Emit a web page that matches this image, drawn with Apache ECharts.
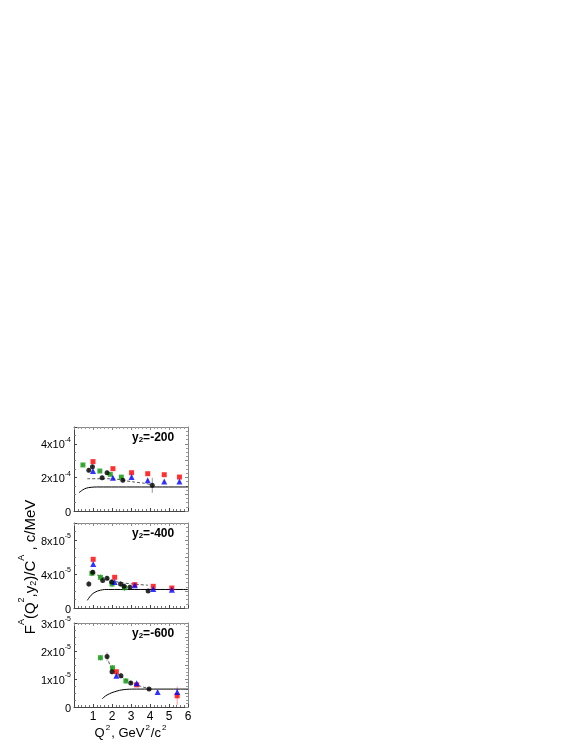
<!DOCTYPE html>
<html>
<head>
<meta charset="utf-8">
<script src="https://cdn.jsdelivr.net/npm/echarts@6/dist/echarts.min.js"></script>
<style>
  html, body { margin: 0; padding: 0; background: #fff; }
  #chart { width: 578px; height: 748px; }
</style>
</head>
<body>
<div id="chart"></div>
<script>
    // panel y scales: panel 1 in 1e-4, panels 2 and 3 in 1e-5
    var scales = [1e-4, 1e-5, 1e-5];
    var panelNames = ['-200', '-400', '-600'];
    var yMax = [5, 10, 3];
    var yStep = [2, 4, 1];
    var xTicks = [0, 1, 2, 3, 4, 5, 6];

    // y2 = -200  (units 1e-4)
    var p1BlackX = [0.78, 0.97, 1.48, 1.74, 2.57, 4.12];
    var p1BlackY = [2.42, 2.64, 1.98, 2.28, 1.83, 1.53];
    var p1BlackE = [0.12, 0.12, 0.15, 0.15, 0.12, 0.45];
    var p1GreenX = [0.47, 1.36, 1.91, 2.49];
    var p1GreenY = [2.74, 2.38, 2.18, 2.02];
    var p1GreenE = [0.12, 0.1, 0.1, 0.1];
    var p1RedX = [1.0, 2.05, 3.03, 3.88, 4.75, 5.55];
    var p1RedY = [2.94, 2.52, 2.28, 2.22, 2.16, 2.02];
    var p1BlueX = [1.0, 2.05, 3.03, 3.88, 4.75, 5.55];
    var p1BlueY = [2.38, 1.98, 2.02, 1.83, 1.75, 1.75];
    var p1DashX = [0.7, 1.5, 2.2, 2.6, 3.2, 3.7, 4.12];
    var p1DashY = [1.92, 1.92, 1.9, 1.82, 1.72, 1.65, 1.55];
    var p1SolidX = [0.26, 0.45, 0.65, 0.9, 1.2, 6];
    var p1SolidY = [1.09, 1.25, 1.36, 1.41, 1.43, 1.43];

    // y2 = -400  (units 1e-5)
    var p2BlackX = [0.78, 0.99, 1.51, 1.74, 1.98, 2.45, 2.63, 2.94, 3.9];
    var p2BlackY = [2.82, 4.2, 3.25, 3.49, 3.06, 2.82, 2.55, 2.43, 2.0];
    var p2BlackE = [0.35, 0.3, 0.3, 0.3, 0.3, 0.3, 0.35, 0.3, 0.2];
    var p2GreenX = [0.94, 1.39, 2.0, 2.66];
    var p2GreenY = [4.08, 3.61, 2.82, 2.39];
    var p2GreenE = [0.35, 0.35, 0.4, 0.4];
    var p2RedX = [1.01, 2.14, 3.2, 4.17, 5.15];
    var p2RedY = [5.73, 3.61, 2.75, 2.55, 2.35];
    var p2BlueX = [1.01, 2.14, 3.2, 4.17, 5.15];
    var p2BlueY = [5.18, 3.06, 2.67, 2.24, 2.16];
    var p2DashX = [0.99, 1.3, 1.7, 2.1, 2.6, 3.2, 3.9];
    var p2DashY = [4.2, 3.8, 3.45, 3.15, 2.95, 2.8, 2.68];
    var p2SolidX = [0.7, 0.9, 1.1, 1.4, 1.8, 6];
    var p2SolidY = [0.9, 1.5, 1.85, 2.1, 2.18, 2.18];

    // y2 = -600  (units 1e-5)
    var p3BlackX = [1.74, 2.0, 2.47, 2.99, 3.95];
    var p3BlackY = [1.80, 1.26, 1.12, 0.86, 0.64];
    var p3BlackE = [0.15, 0.1, 0.1, 0.08, 0.06];
    var p3GreenX = [1.39, 2.03, 2.73];
    var p3GreenY = [1.76, 1.40, 0.93];
    var p3GreenE = [0.1, 0.1, 0.1];
    var p3RedX = [2.23, 3.3, 5.43];
    var p3RedY = [1.26, 0.79, 0.40];
    var p3RedE = [0.05, 0.05, 0.33];
    var p3BlueX = [2.23, 3.3, 4.4, 5.43];
    var p3BlueY = [1.12, 0.85, 0.54, 0.54];
    var p3BlueE = [0.04, 0.04, 0.04, 0.1];
    var p3DashX = [1.74, 2.0, 2.5, 3.0, 3.5, 3.95];
    var p3DashY = [1.80, 1.35, 1.08, 0.88, 0.74, 0.66];
    var p3SolidX = [1.48, 1.74, 2.26, 2.78, 3.3, 6];
    var p3SolidY = [0.29, 0.43, 0.57, 0.63, 0.64, 0.64];

    var panels = [
        {black: [p1BlackX, p1BlackY, p1BlackE], green: [p1GreenX, p1GreenY, p1GreenE],
         red: [p1RedX, p1RedY, null], blue: [p1BlueX, p1BlueY, null],
         dash: [p1DashX, p1DashY], solid: [p1SolidX, p1SolidY]},
        {black: [p2BlackX, p2BlackY, p2BlackE], green: [p2GreenX, p2GreenY, p2GreenE],
         red: [p2RedX, p2RedY, null], blue: [p2BlueX, p2BlueY, null],
         dash: [p2DashX, p2DashY], solid: [p2SolidX, p2SolidY]},
        {black: [p3BlackX, p3BlackY, p3BlackE], green: [p3GreenX, p3GreenY, p3GreenE],
         red: [p3RedX, p3RedY, p3RedE], blue: [p3BlueX, p3BlueY, p3BlueE],
         dash: [p3DashX, p3DashY], solid: [p3SolidX, p3SolidY]}
    ];

    var gridTops = [427, 523, 623];
    var gridHeights = [84, 85, 84];
    var font = 'Liberation Sans, Arial, sans-serif';

    function pairs(xs, ys, k) {
        return xs.map(function (x, i) { return [x, ys[i] * k]; });
    }

    function errSeries(xi, yi, xs, ys, es, k, color, xe) {
        var data = xs.map(function (x, i) {
            return [x, ys[i] * k, (es ? es[i] : 0.05) * k, xe || 0];
        });
        return {
            type: 'custom', xAxisIndex: xi, yAxisIndex: yi, silent: true, z: 1,
            renderItem: function (params, api) {
                var x = api.value(0), y = api.value(1), e = api.value(2), h = api.value(3);
                var a = api.coord([x, y - e]), b = api.coord([x, y + e]);
                var kids = [{type: 'line', shape: {x1: a[0], y1: a[1], x2: b[0], y2: b[1]},
                    style: {stroke: color, lineWidth: 1}}];
                if (h) {
                    var c = api.coord([x - h, y]), d = api.coord([x + h, y]);
                    kids.push({type: 'line', shape: {x1: c[0], y1: c[1], x2: d[0], y2: d[1]},
                        style: {stroke: color, lineWidth: 1}});
                }
                return {type: 'group', children: kids};
            },
            data: data
        };
    }

    var grids = [], xAxes = [], yAxes = [], series = [];
    panels.forEach(function (p, gi) {
        var k = scales[gi];
        var expo = gi === 0 ? '-4' : '-5';
        grids.push({left: 74, width: 114, top: gridTops[gi], height: gridHeights[gi]});
        xAxes.push({
            type: 'value', gridIndex: gi, min: 0, max: 6, interval: 1,
            axisLine: {show: true, onZero: false, lineStyle: {color: '#444', width: 1}},
            axisTick: {show: true, inside: true, length: 3, lineStyle: {color: '#444'}},
            minorTick: {show: true, splitNumber: 5, length: 2, lineStyle: {color: '#777'}},
            axisLabel: {show: gi === 2, margin: 4, color: '#000', fontSize: 12, fontFamily: font,
                formatter: function (v) { return v === 0 ? '' : String(v); }},
            splitLine: {show: false},
            name: gi === 2 ? '{t|Q}{s|2}{t|, GeV}{s|2}{t|/c}{s|2}' : '',
            nameLocation: 'middle', nameGap: 15,
            nameTextStyle: {rich: {
                t: {fontSize: 13, fontFamily: font, color: '#000', lineHeight: 16, verticalAlign: 'bottom'},
                s: {fontSize: 8, fontFamily: font, color: '#000', lineHeight: 8, verticalAlign: 'top', padding: [0, 1, 0, 1]}
            }}
        });
        xAxes.push({
            type: 'value', gridIndex: gi, min: 0, max: 6, interval: 1, position: 'top',
            axisLine: {show: true, onZero: false, lineStyle: {color: '#888', width: 1}},
            axisTick: {show: true, inside: true, length: 3, lineStyle: {color: '#888'}},
            minorTick: {show: true, splitNumber: 5, length: 2, lineStyle: {color: '#999'}},
            axisLabel: {show: false}, splitLine: {show: false}
        });
        yAxes.push({
            type: 'value', gridIndex: gi, min: 0, max: yMax[gi] * k, interval: yStep[gi] * k,
            axisLine: {show: true, onZero: false, lineStyle: {color: '#444', width: 1}},
            axisTick: {show: true, inside: true, length: 3, lineStyle: {color: '#444'}},
            minorTick: {show: true, splitNumber: 4, length: 2, lineStyle: {color: '#777'}},
            splitLine: {show: false},
            axisLabel: {margin: 3, color: '#000', showMaxLabel: yMax[gi] % yStep[gi] === 0,
                formatter: function (v) {
                    if (v === 0) return '{n|0}';
                    return '{n|' + Math.round(v / k) + 'x10}{s|' + expo + '}';
                },
                rich: {
                    n: {fontSize: 11, fontFamily: font, color: '#000', lineHeight: 14, verticalAlign: 'bottom'},
                    s: {fontSize: 7, fontFamily: font, color: '#000', lineHeight: 7, verticalAlign: 'top'}
                }}
        });
        yAxes.push({
            type: 'value', gridIndex: gi, min: 0, max: yMax[gi] * k, interval: yStep[gi] * k / 2,
            position: 'right',
            axisLine: {show: true, onZero: false, lineStyle: {color: '#888', width: 1}},
            axisTick: {show: true, inside: true, length: 3, lineStyle: {color: '#888'}},
            minorTick: {show: true, splitNumber: 4, length: 2, lineStyle: {color: '#999'}},
            axisLabel: {show: false}, splitLine: {show: false}
        });
    });

    panels.forEach(function (p, gi) {
        var k = scales[gi];
        var xi = gi * 2, yi = gi * 2;
        function err(arr, color, xe) {
            return errSeries(xi, yi, arr[0], arr[1], arr[2], k, color, xe);
        }
        series.push({type: 'line', xAxisIndex: xi, yAxisIndex: yi, data: pairs(p.solid[0], p.solid[1], k),
            smooth: 0.4, symbol: 'none', lineStyle: {color: '#000', width: 1}, silent: true});
        series.push({type: 'line', xAxisIndex: xi, yAxisIndex: yi, data: pairs(p.dash[0], p.dash[1], k),
            smooth: 0.3, symbol: 'none', lineStyle: {color: '#555', width: 1, type: [3, 2]}, silent: true});
        series.push(err(p.black, '#999'));
        series.push(err(p.green, '#8fce8f', 0.1));
        series.push(err(p.red, '#f4a0a0'));
        series.push(err(p.blue, '#a0a0f4'));
        series.push({type: 'scatter', xAxisIndex: xi, yAxisIndex: yi, data: pairs(p.green[0], p.green[1], k),
            symbol: 'rect', symbolSize: 5, itemStyle: {color: '#119911'}, z: 3});
        series.push({type: 'scatter', xAxisIndex: xi, yAxisIndex: yi, data: pairs(p.red[0], p.red[1], k),
            symbol: 'rect', symbolSize: 5, itemStyle: {color: '#ff0000'}, z: 3});
        series.push({type: 'scatter', xAxisIndex: xi, yAxisIndex: yi, data: pairs(p.blue[0], p.blue[1], k),
            symbol: 'triangle', symbolSize: 6, itemStyle: {color: '#0000ff'}, z: 3});
        series.push({type: 'scatter', xAxisIndex: xi, yAxisIndex: yi, data: pairs(p.black[0], p.black[1], k),
            symbol: 'circle', symbolSize: 5, itemStyle: {color: '#000'}, z: 4});
    });

    var labelTops = [432, 528, 628];
    var graphics = panelNames.map(function (nm, gi) {
        return {
            type: 'text', left: 132, top: labelTops[gi], silent: true,
            style: {
                text: '{b|y}{s|2}{b|=' + nm + '}',
                rich: {
                    b: {fontSize: 12, fontWeight: 'bold', fontFamily: font, fill: '#000', lineHeight: 21, verticalAlign: 'bottom'},
                    s: {fontSize: 8, fontWeight: 'bold', fontFamily: font, fill: '#000', lineHeight: 8, verticalAlign: 'bottom'}
                }
            }
        };
    });
    graphics.push({
        type: 'text', x: 26, y: 567, rotation: Math.PI / 2, silent: true,
        style: {
            text: '{t|F}{p|A}{t|(Q}{p|2}{t|,y}{d|2}{t|)/C}{p|A}{t| , c/MeV}',
            align: 'center', verticalAlign: 'middle',
            rich: {
                t: {fontSize: 15, fontFamily: font, fill: '#000', lineHeight: 24, verticalAlign: 'bottom'},
                p: {fontSize: 9, fontFamily: font, fill: '#000', lineHeight: 9, verticalAlign: 'top', padding: [3, 0, 0, 0]},
                d: {fontSize: 9, fontFamily: font, fill: '#000', lineHeight: 9, verticalAlign: 'bottom'}
            }
        }
    });

    var myChart = echarts.init(document.getElementById('chart'));
    myChart.setOption({
        animation: false,
        grid: grids,
        xAxis: xAxes,
        yAxis: yAxes,
        series: series,
        graphic: graphics
    });
</script>
</body>
</html>
